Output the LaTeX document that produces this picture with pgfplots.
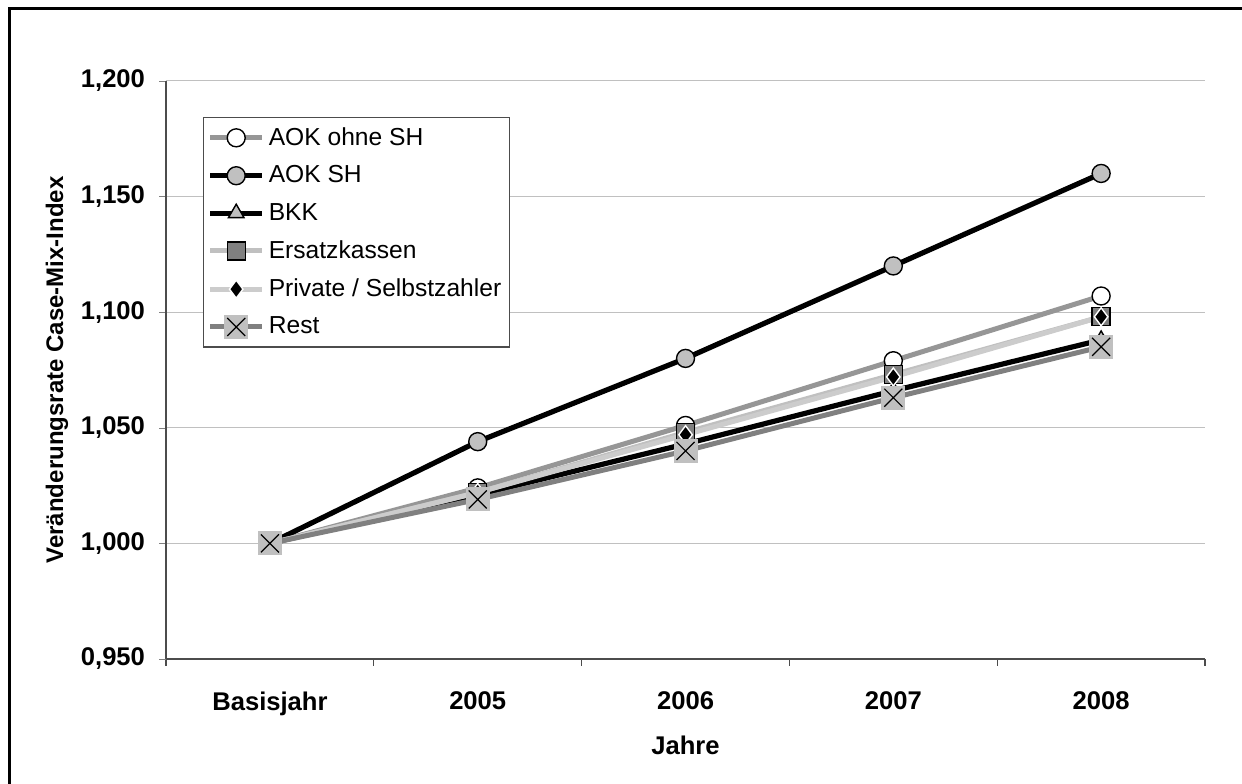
\documentclass[border=0pt]{standalone}
\usepackage{pgfplots}
\pgfplotsset{compat=1.18}
\usepackage{fontspec}
\setmainfont{Liberation Sans}

\definecolor{ohnesh}{HTML}{969696}
\definecolor{lgray}{HTML}{C0C0C0}
\definecolor{llgray}{HTML}{CCCCCC}
\definecolor{mgray}{HTML}{808080}

% grey square with a black cross (Excel "x" marker on grey fill)
\pgfdeclareplotmark{grayx}{%
  \pgfpathrectangle{\pgfqpoint{-\pgfplotmarksize}{-\pgfplotmarksize}}{\pgfqpoint{2\pgfplotmarksize}{2\pgfplotmarksize}}%
  \pgfsetfillcolor{lgray}\pgfusepath{fill}%
  \pgfsetstrokecolor{black}\pgfsetlinewidth{0.6pt}%
  \pgfpathmoveto{\pgfqpoint{-0.75\pgfplotmarksize}{-0.75\pgfplotmarksize}}%
  \pgfpathlineto{\pgfqpoint{0.75\pgfplotmarksize}{0.75\pgfplotmarksize}}%
  \pgfpathmoveto{\pgfqpoint{-0.75\pgfplotmarksize}{0.75\pgfplotmarksize}}%
  \pgfpathlineto{\pgfqpoint{0.75\pgfplotmarksize}{-0.75\pgfplotmarksize}}%
  \pgfusepath{stroke}}

\begin{document}
\begin{tikzpicture}
  \begin{axis}[
      scale only axis,
      width=519.5pt, height=289pt,
      clip=false,
      xmin=-0.5, xmax=4.5,
      ymin=0.95, ymax=1.2,
      axis lines*=left,
      axis line style={-, draw=black!70, line width=0.6pt},
      xtick={0,1,2,3,4},
      xticklabels={Basisjahr,2005,2006,2007,2008},
      major x tick style={draw=none},
      minor xtick={-0.5,0.5,1.5,2.5,3.5,4.5},
      minor x tick style={draw=black!70, line width=0.6pt},
      minor tick length=3.5pt,
      ytick={0.95,1,1.05,1.1,1.15,1.2},
      yticklabels={{0,950},{1,000},{1,050},{1,100},{1,150},{1,200}},
      major tick length=3.5pt,
      tick align=outside,
      ymajorgrids,
      major grid style={draw=lgray, line width=0.5pt},
      tick label style={font=\fontsize{12.8}{15}\selectfont\bfseries},
      yticklabel style={xshift=-3.5pt},
      xticklabel style={yshift=-9.5pt},
      xlabel={Jahre},
      ylabel={Veränderungsrate Case-Mix-Index},
      xlabel style={font=\fontsize{12.8}{15}\selectfont\bfseries, at={(rel axis cs:0.5,-0.149)}, anchor=center},
      ylabel style={font=\fontsize{12}{14}\selectfont\bfseries, at={(rel axis cs:-0.105,0.5)}, anchor=center},
      legend cell align=left,
      legend style={at={(rel axis cs:0.0356,0.938)}, anchor=north west,
        draw=black!70, line width=0.6pt, font=\fontsize{12.3}{14}\selectfont,
        row sep=4.7pt, inner xsep=2pt, inner ysep=3pt},
      legend image code/.code={%
        \draw[mark repeat=2, mark phase=2] plot coordinates {(0pt,0pt) (13pt,0pt) (26pt,0pt)};},
    ]
    % AOK ohne SH
    \addplot[color=ohnesh, line width=2.5pt, mark=*, mark size=4.5pt,
      mark options={fill=white, draw=black, line width=0.7pt}] coordinates {
      (0,1.000) (1,1.024) (2,1.051) (3,1.079) (4,1.107) };
    % AOK SH
    \addplot[color=black, line width=2.6pt, mark=*, mark size=4.5pt,
      mark options={fill=lgray, draw=black, line width=0.7pt}] coordinates {
      (0,1.000) (1,1.044) (2,1.080) (3,1.120) (4,1.160) };
    % BKK
    \addplot[color=black, line width=2.6pt, mark=triangle*, mark size=4.5pt,
      mark options={fill=lgray, draw=black, line width=0.7pt}] coordinates {
      (0,1.000) (1,1.021) (2,1.043) (3,1.066) (4,1.088) };
    % Ersatzkassen
    \addplot[color=lgray, line width=2.5pt, mark=square*, mark size=4.5pt,
      mark options={fill=mgray, draw=black, line width=0.7pt}] coordinates {
      (0,1.000) (1,1.022) (2,1.048) (3,1.073) (4,1.098) };
    % Private / Selbstzahler
    \addplot[color=llgray, line width=2.5pt, mark=diamond*, mark size=4.5pt,
      mark options={fill=black, draw=white, line width=0.7pt}] coordinates {
      (0,1.000) (1,1.022) (2,1.047) (3,1.072) (4,1.098) };
    % Rest
    \addplot[color=mgray, line width=2.5pt, mark=grayx, mark size=6pt] coordinates {
      (0,1.000) (1,1.019) (2,1.040) (3,1.063) (4,1.085) };
    \legend{AOK ohne SH, AOK SH, BKK, Ersatzkassen, Private / Selbstzahler, Rest}

    % page corners and the (cropped) outer chart frame
    \coordinate (bbsw) at (rel axis cs:-0.1598,-0.2163);
    \coordinate (bbne) at (rel axis cs:1.0356,1.1401);
    \draw[black, line width=1.5pt] (rel axis cs:-0.1511,-0.3) -- (rel axis cs:-0.1511,1.1246) -- (rel axis cs:1.1,1.1246);
  \end{axis}
  \pgfresetboundingbox
  \useasboundingbox (bbsw) rectangle (bbne);
\end{tikzpicture}
\end{document}
